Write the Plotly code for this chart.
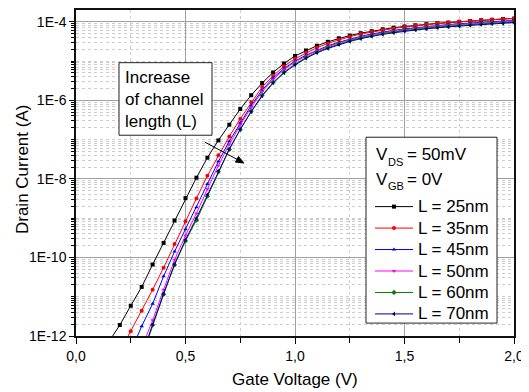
import plotly.graph_objects as go

# ---------------- data ----------------
gate_voltage = [0.15, 0.20, 0.25, 0.30, 0.35, 0.40, 0.45, 0.50, 0.55, 0.60,
                0.65, 0.70, 0.75, 0.80, 0.85, 0.90, 0.95, 1.00, 1.05, 1.10,
                1.15, 1.20, 1.25, 1.30, 1.35, 1.40, 1.45, 1.50, 1.55, 1.60,
                1.65, 1.70, 1.75, 1.80, 1.85, 1.90, 1.95, 2.00]

# log10 of drain current (A)
log_id_25nm = [-12.15, -11.72, -11.23, -10.75, -10.18, -9.63, -9.06, -8.49, -7.97, -7.46,
               -7.02, -6.62, -6.22, -5.87, -5.56, -5.29, -5.06, -4.87, -4.73, -4.61,
               -4.51, -4.42, -4.35, -4.29, -4.24, -4.19, -4.15, -4.12, -4.09, -4.06,
               -4.04, -4.02, -4.00, -3.98, -3.96, -3.95, -3.93, -3.92]
log_id_35nm = [None, -12.40, -11.88, -11.36, -10.82, -10.26, -9.66, -9.08, -8.50, -7.92,
               -7.40, -6.92, -6.47, -6.05, -5.66, -5.38, -5.13, -4.94, -4.79, -4.66,
               -4.55, -4.46, -4.38, -4.31, -4.26, -4.21, -4.17, -4.13, -4.10, -4.07,
               -4.04, -4.02, -4.00, -3.98, -3.96, -3.94, -3.93, -3.91]
log_id_45nm = [None, None, -12.40, -11.75, -11.18, -10.48, -9.85, -9.28, -8.72, -8.13,
               -7.56, -7.04, -6.57, -6.13, -5.74, -5.43, -5.19, -5.00, -4.85, -4.72,
               -4.61, -4.52, -4.44, -4.37, -4.31, -4.26, -4.22, -4.18, -4.15, -4.12,
               -4.09, -4.07, -4.05, -4.03, -4.01, -4.00, -3.98, -3.97]
log_id_50nm = [None, None, None, -12.30, -11.60, -10.82, -10.06, -9.44, -8.88, -8.26,
               -7.66, -7.12, -6.63, -6.18, -5.78, -5.47, -5.22, -5.03, -4.87, -4.74,
               -4.63, -4.54, -4.46, -4.39, -4.33, -4.28, -4.24, -4.20, -4.17, -4.14,
               -4.11, -4.09, -4.07, -4.05, -4.03, -4.02, -4.00, -3.99]
log_id_60nm = [None, None, None, -12.55, -11.72, -10.94, -10.19, -9.58, -9.05, -8.44,
               -7.82, -7.25, -6.74, -6.28, -5.87, -5.54, -5.28, -5.08, -4.91, -4.77,
               -4.66, -4.56, -4.48, -4.41, -4.35, -4.30, -4.26, -4.22, -4.19, -4.16,
               -4.13, -4.11, -4.09, -4.07, -4.05, -4.03, -4.02, -4.01]
log_id_70nm = [None, None, None, -12.50, -11.70, -10.92, -10.17, -9.55, -9.00, -8.40,
               -7.80, -7.24, -6.74, -6.29, -5.89, -5.56, -5.30, -5.10, -4.93, -4.79,
               -4.68, -4.58, -4.50, -4.43, -4.37, -4.32, -4.28, -4.24, -4.21, -4.18,
               -4.15, -4.13, -4.11, -4.09, -4.07, -4.05, -4.04, -4.02]

series_names = ["L = 25nm", "L = 35nm", "L = 45nm", "L = 50nm", "L = 60nm", "L = 70nm"]
series_logs = [log_id_25nm, log_id_35nm, log_id_45nm, log_id_50nm, log_id_60nm, log_id_70nm]

x_tick_values = [0.0, 0.5, 1.0, 1.5, 2.0]
x_tick_labels = ["0,0", "0,5", "1,0", "1,5", "2,0"]
y_tick_values = [1e-12, 1e-10, 1e-8, 1e-6, 1e-4]
y_tick_labels = ["1E-12", "1E-10", "1E-8", "1E-6", "1E-4"]
y_unlabelled_decades = [-11, -9, -7, -5]

# ---------------- styling ----------------
colors = ["#000000", "#FF0000", "#0000FF", "#FF00FF", "#008000", "#000080"]
symbols = ["square", "circle", "triangle-up", "triangle-down", "diamond", "triangle-left"]
FONT = "Liberation Sans, Arial, sans-serif"

# page body has an 8px default margin; compensate so the plot sits where the reference has it
OFF = 8
W, H = 529 - OFF, 392 - OFF
PL, PT, PR, PB = 76, 8, 514, 336          # plot area in page pixels
ML, MT = PL - OFF, PT - OFF
MR, MB = W - (PR - OFF), H - (PB - OFF)
PW, PH = PR - PL, PB - PT


def px_x(p):
    return (p - PL) / PW


def px_y(p):
    return (PB - p) / PH


fig = go.Figure()
for name, logs, col, sym in zip(series_names, series_logs, colors, symbols):
    fig.add_trace(go.Scatter(
        x=gate_voltage,
        y=[None if v is None else 10 ** v for v in logs],
        mode="lines+markers",
        name='<span style="font-size:17px">' + name + "</span>",
        line=dict(color=col, width=1),
        marker=dict(symbol=sym, size=4, color=col),
    ))

minor_y = [k * 10.0 ** e for e in range(-12, -3) for k in range(1, 10)
           if (k > 1 or e in y_unlabelled_decades)]

grid_shapes = [
    dict(type="line", xref="paper", yref="y", x0=0, x1=1, y0=d, y1=d,
         line=dict(color="#a0a0a0", width=1), layer="below")
    for d in y_unlabelled_decades
]

# arrow ("increase of channel length") drawn as a line plus a filled head
tail, tip = (205.0, 141.0), (244.0, 162.0)
dx, dy = tip[0] - tail[0], tip[1] - tail[1]
ln = (dx * dx + dy * dy) ** 0.5
ux, uy = dx / ln, dy / ln
nx, ny = -uy, ux
head_len, head_half = 8.0, 3.2
bx, by = tip[0] - head_len * ux, tip[1] - head_len * uy
arrow_path = "M{},{} L{},{} L{},{} Z".format(
    px_x(tip[0]), px_y(tip[1]),
    px_x(bx + head_half * nx), px_y(by + head_half * ny),
    px_x(bx - head_half * nx), px_y(by - head_half * ny))


def label(text, x, y, size=17, **kw):
    d = dict(text=text, xref="paper", yref="paper", x=px_x(x), y=px_y(y),
             xanchor="left", yanchor="middle", showarrow=False,
             font=dict(size=size, color="black"))
    d.update(kw)
    return d


fig.update_layout(
    width=W, height=H,
    margin=dict(l=ML, r=MR, t=MT, b=MB, pad=0),
    paper_bgcolor="white", plot_bgcolor="white",
    font=dict(family=FONT, size=14, color="black"),
    showlegend=True,
    legend=dict(
        x=px_x(370), y=px_y(190), xanchor="left", yanchor="top",
        bgcolor="rgba(0,0,0,0)", borderwidth=0,
        font=dict(family=FONT, size=14.2, color="black"),
        itemwidth=38, tracegroupgap=0,
    ),
    xaxis=dict(
        range=[0, 2.0], tickmode="array", tickvals=x_tick_values, ticktext=x_tick_labels,
        ticks="outside", ticklen=6, tickcolor="black", tickwidth=1,
        showline=True, linecolor="#111111", linewidth=1.5, mirror=True,
        showgrid=True, gridcolor="#a0a0a0", gridwidth=1, zeroline=False,
        tickfont=dict(size=14),
        minor=dict(tickvals=[0.25, 0.75, 1.25, 1.75], ticks="outside", ticklen=5,
                   tickcolor="black", showgrid=True, gridcolor="#cccccc", griddash="dot"),
    ),
    yaxis=dict(
        type="log", range=[-12, -3.7], tickmode="array",
        tickvals=y_tick_values, ticktext=y_tick_labels,
        ticks="outside", ticklen=5, tickcolor="black", tickwidth=1,
        showline=True, linecolor="#111111", linewidth=1.5, mirror=True,
        showgrid=True, gridcolor="#a0a0a0", gridwidth=1, zeroline=False,
        tickfont=dict(size=14),
        minor=dict(tickvals=minor_y, ticks="outside", ticklen=3, tickcolor="black",
                   showgrid=True, gridcolor="#cccccc", griddash="dot"),
    ),
    shapes=grid_shapes + [
        dict(type="rect", xref="paper", yref="paper",
             x0=px_x(119), x1=px_x(212), y0=px_y(134), y1=px_y(61),
             line=dict(color="#222222", width=1), fillcolor="white", layer="above"),
        dict(type="rect", xref="paper", yref="paper",
             x0=px_x(366), x1=px_x(497), y0=px_y(323), y1=px_y(136),
             line=dict(color="#222222", width=1), fillcolor="white", layer="above"),
        dict(type="line", xref="paper", yref="paper",
             x0=px_x(tail[0]), y0=px_y(tail[1]), x1=px_x(bx), y1=px_y(by),
             line=dict(color="black", width=1), layer="above"),
        dict(type="path", xref="paper", yref="paper", path=arrow_path,
             fillcolor="black", line=dict(color="black", width=1), layer="above"),
    ],
    annotations=[
        label("Increase<br>of channel<br>length (L)", 123, 64, yanchor="top", align="left"),
        # V_DS = 50mV  (subscript set as a smaller, lowered text)
        label("V", 374, 153.5),
        label("DS", 386, 160.5, size=11),
        label("= 50mV", 405, 153.5),
        # V_GB = 0V
        label("V", 374, 178.5),
        label("GB", 386, 185.5, size=11),
        label("= 0V", 405, 178.5),
        label("Gate Voltage (V)", 295, 380, xanchor="center"),
        label("Drain Current (A)", 22.5, 168.5, xanchor="center", textangle=-90),
    ],
)

fig.write_html("out.html")
